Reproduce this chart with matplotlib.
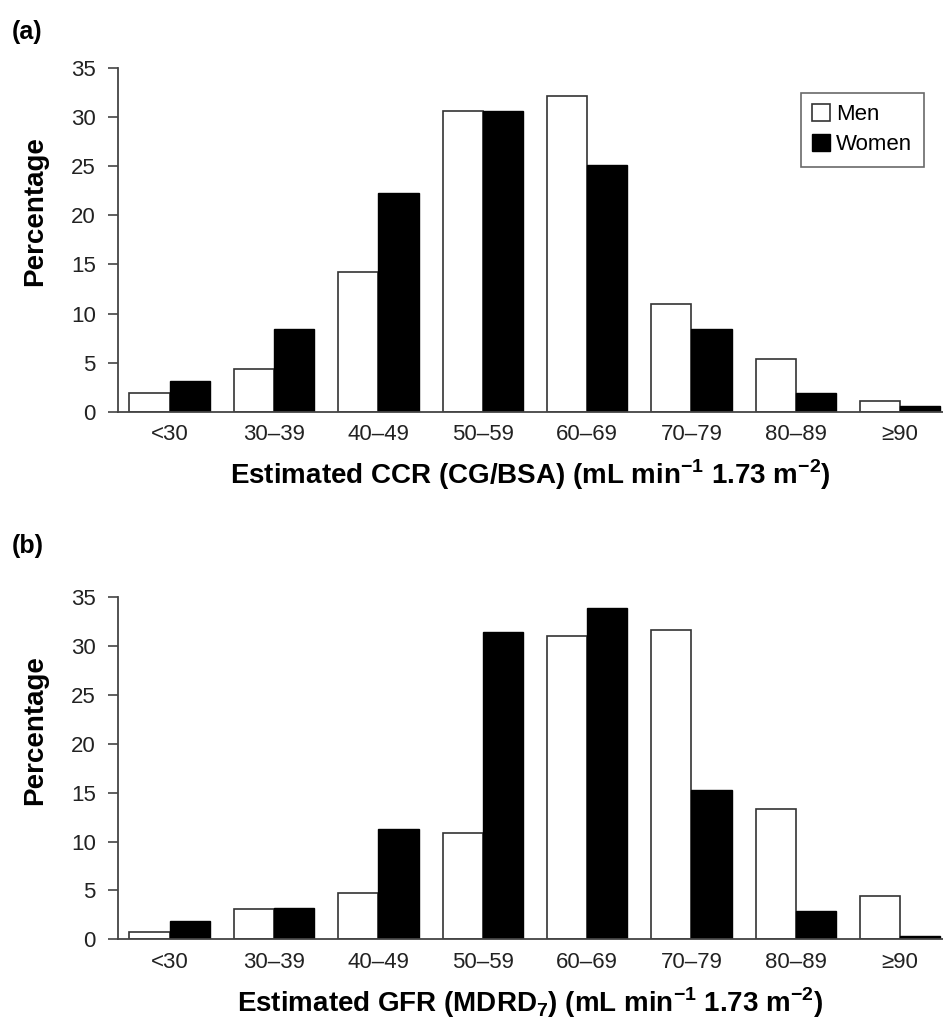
import numpy as np
import matplotlib
matplotlib.use("Agg")
import matplotlib.pyplot as plt
from matplotlib.font_manager import fontManager

# Kategori dan nilai persentase
categories = ['<30', '30\u201339', '40\u201349', '50\u201359', '60\u201369', '70\u201379', '80\u201389', '\u226590']
ccr_men = [1.9, 4.3, 14.2, 30.6, 32.2, 11.0, 5.4, 1.1]
ccr_women = [3.1, 8.4, 22.3, 30.6, 25.1, 8.4, 1.9, 0.6]
gfr_men = [0.7, 3.1, 4.7, 10.9, 31.0, 31.7, 13.3, 4.4]
gfr_women = [1.9, 3.2, 11.3, 31.5, 33.9, 15.3, 2.9, 0.3]

yticks = [0, 5, 10, 15, 20, 25, 30, 35]

names = {f.name for f in fontManager.ttflist}
narrow = 'Liberation Sans Narrow' if 'Liberation Sans Narrow' in names else 'Liberation Sans'
plt.rcParams['font.family'] = [narrow, 'DejaVu Sans']
plt.rcParams['mathtext.fontset'] = 'custom'
plt.rcParams['mathtext.rm'] = narrow
plt.rcParams['mathtext.bf'] = narrow + ':bold'

fig = plt.figure(figsize=(9.43, 10.23), dpi=100)
ax1 = fig.add_axes([118 / 943, 1 - 411.7 / 1023, 825 / 943, 343.5 / 1023])
ax2 = fig.add_axes([118 / 943, 1 - 939.3 / 1023, 825 / 943, 342 / 1023])

x = np.arange(len(categories))
w = 0.385


def draw(ax, men, women, xlabel):
    ax.bar(x - w / 2, men, w, color='white', edgecolor='#333333', linewidth=1.2, label='Men')
    ax.bar(x + w / 2, women, w, color='black', edgecolor='black', linewidth=1.0, label='Women')
    ax.set_xlim(-0.495, 7.41)
    ax.set_ylim(0, 35)
    ax.set_yticks(yticks)
    ax.set_xticks(x)
    ax.set_xticklabels(categories, fontsize=16, color='#222222')
    ax.tick_params(axis='x', length=0, pad=9)
    ax.tick_params(axis='y', length=7, width=1.2, color='#444444', labelsize=16,
                   labelcolor='#222222', pad=9)
    for s in ['top', 'right']:
        ax.spines[s].set_visible(False)
    ax.spines['left'].set_linewidth(1.3)
    ax.spines['left'].set_color('#444444')
    ax.spines['bottom'].set_linewidth(1.3)
    ax.spines['bottom'].set_color('#444444')
    ax.set_xlabel(xlabel, fontsize=20, fontweight='bold', labelpad=9)


draw(ax1, ccr_men, ccr_women,
     r'Estimated CCR (CG/BSA) (mL min$^{\mathbf{-1}}$ 1.73 m$^{\mathbf{-2}}$)')
draw(ax2, gfr_men, gfr_women,
     r'Estimated GFR (MDRD$_{\mathbf{7}}$) (mL min$^{\mathbf{-1}}$ 1.73 m$^{\mathbf{-2}}$)')

leg = ax1.legend(loc='upper right', bbox_to_anchor=(0.99, 0.96), fontsize=16,
                 frameon=True, fancybox=False, edgecolor='#444444',
                 handlelength=0.8, handleheight=0.8, handletextpad=0.3,
                 borderpad=0.5, labelspacing=0.4)
leg.get_frame().set_linewidth(1.2)

fig.text(35 / 943, 1 - 211 / 1023, 'Percentage', rotation=90, fontsize=20,
         fontweight='bold', ha='center', va='center')
fig.text(35 / 943, 1 - 730 / 1023, 'Percentage', rotation=90, fontsize=20,
         fontweight='bold', ha='center', va='center')
fig.text(12 / 943, 1 - 32 / 1023, '(a)', fontsize=18, fontweight='bold', va='center')
fig.text(12 / 943, 1 - 546 / 1023, '(b)', fontsize=18, fontweight='bold', va='center')

fig.savefig('out.png', dpi=100, facecolor='white')
